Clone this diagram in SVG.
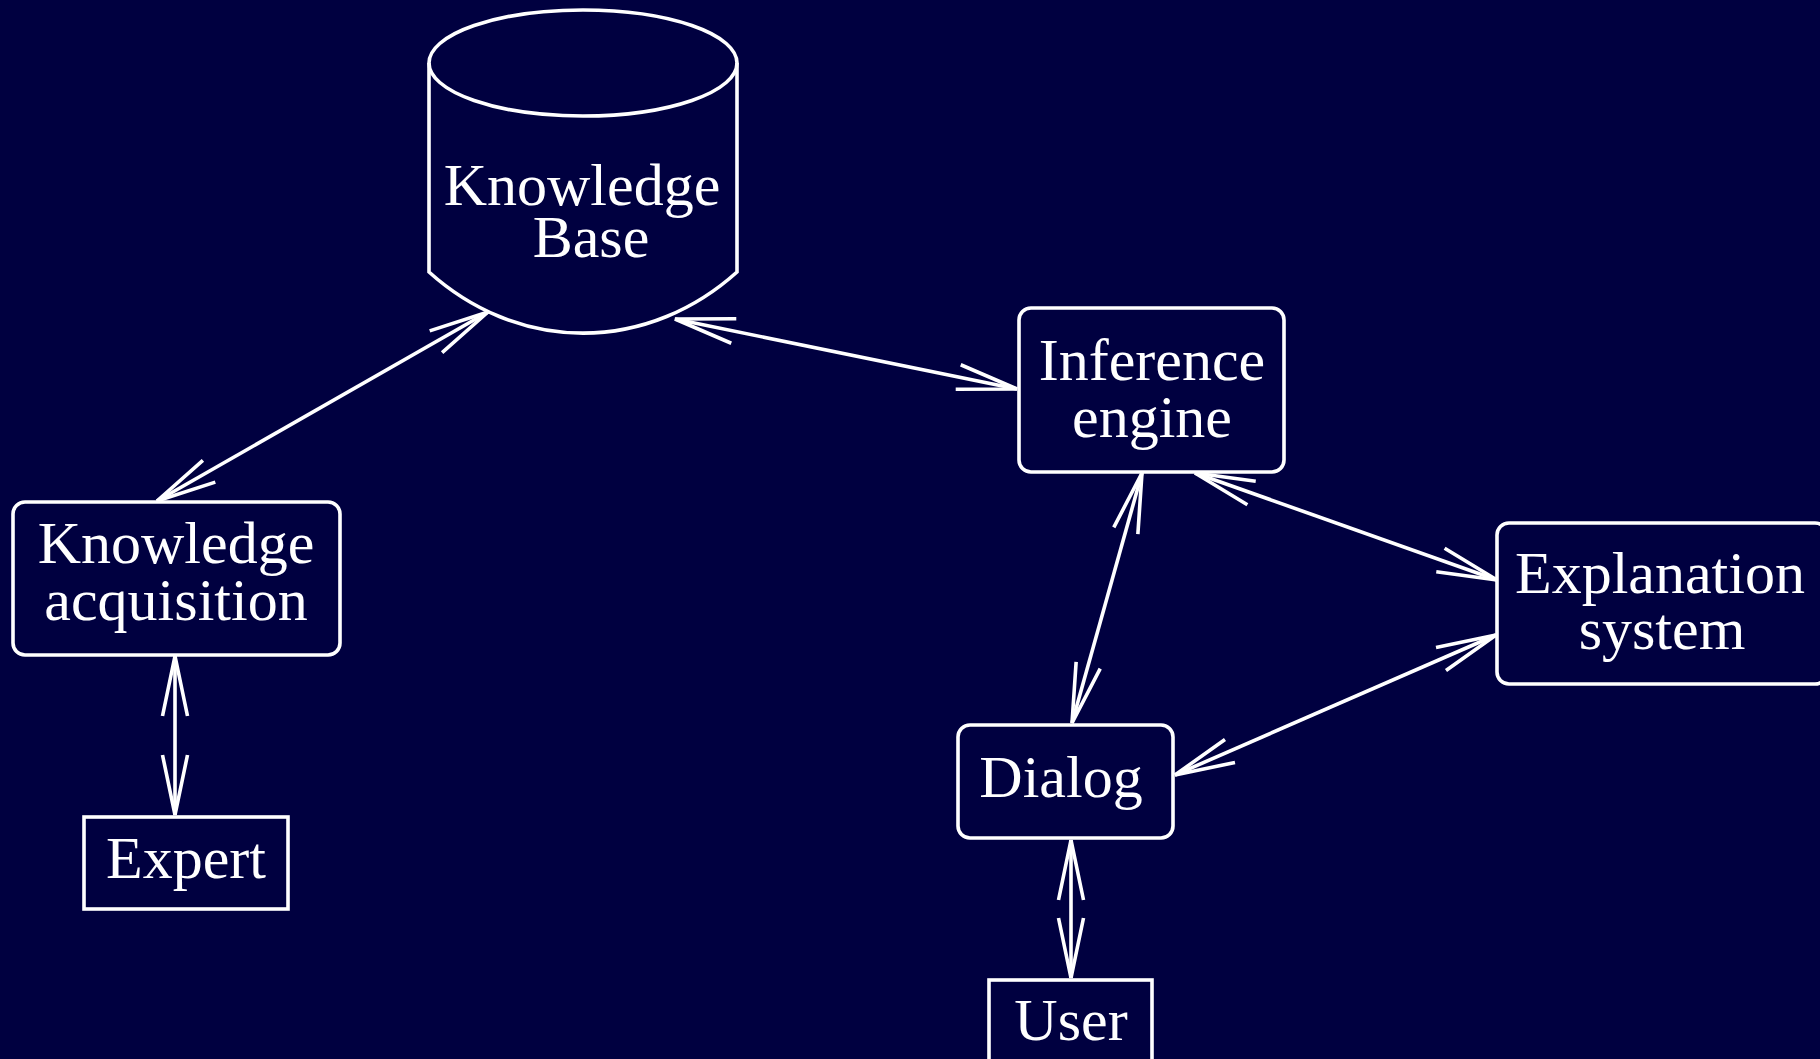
<svg xmlns="http://www.w3.org/2000/svg" width="1820" height="1059" viewBox="0 0 1820 1059">
<defs>
<style>
.bg{fill:#000040}
.shape{fill:none;stroke:#fff;stroke-width:3.6}
.conn{fill:none;stroke:#fff;stroke-width:3.6;marker-start:url(#arr);marker-end:url(#arr)}
text{font-family:"Liberation Serif","Times New Roman",serif;font-size:60px;fill:#fff;text-anchor:middle}
</style>
<marker id="arr" markerUnits="userSpaceOnUse" viewBox="-64 -16 68 32" refX="0" refY="0" markerWidth="68" markerHeight="32" orient="auto-start-reverse">
<path d="M-60,-12.5 L0,0 L-60,12.5" fill="none" stroke="#fff" stroke-width="3.6"/>
</marker>
</defs>
<rect class="bg" x="0" y="0" width="1820" height="1059"/>
<g id="connectors">
<line class="conn" x1="157" y1="501" x2="488" y2="312"/>
<line class="conn" x1="675" y1="319" x2="1017" y2="389"/>
<line class="conn" x1="175" y1="656" x2="175" y2="815"/>
<line class="conn" x1="1142" y1="473" x2="1072" y2="723"/>
<line class="conn" x1="1195" y1="473" x2="1497" y2="580"/>
<line class="conn" x1="1496" y1="635" x2="1175" y2="775"/>
<line class="conn" x1="1071" y1="840" x2="1071" y2="978"/>
</g>
<g id="knowledge-base">
<ellipse class="shape" cx="583" cy="63" rx="154" ry="53"/>
<path class="shape" d="M429,63 L429,272 A250,288 0 0 0 737,272 L737,63"/>
<text x="582" y="205">Knowledge</text>
<text x="591" y="257">Base</text>
</g>
<g id="knowledge-acquisition">
<rect class="shape" x="13" y="502" width="327" height="153" rx="12"/>
<text x="176" y="563">Knowledge</text>
<text x="176" y="620">acquisition</text>
</g>
<g id="expert">
<rect class="shape" x="84" y="817" width="204" height="92"/>
<text x="186" y="878">Expert</text>
</g>
<g id="inference-engine">
<rect class="shape" x="1019" y="308" width="265" height="164" rx="12"/>
<text x="1152" y="380">Inference</text>
<text x="1152" y="437">engine</text>
</g>
<g id="explanation-system">
<rect class="shape" x="1497" y="523" width="330" height="161" rx="12"/>
<text x="1660" y="593">Explanation</text>
<text x="1662" y="649">system</text>
</g>
<g id="dialog">
<rect class="shape" x="958" y="725" width="215" height="113" rx="12"/>
<text x="1061" y="797">Dialog</text>
</g>
<g id="user">
<rect class="shape" x="989" y="980" width="163" height="100"/>
<text x="1071" y="1040">User</text>
</g>
</svg>
